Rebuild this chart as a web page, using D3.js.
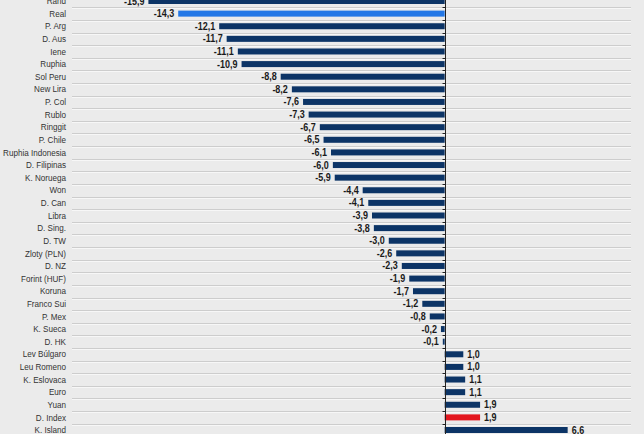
<!DOCTYPE html>
<html>
<head>
<meta charset="utf-8">
<style>
  html, body { margin: 0; padding: 0; background: #ebebeb; }
  svg { display: block; }
</style>
<script src="https://cdn.jsdelivr.net/npm/d3@7"></script>
</head>
<body>
<svg id="chart"></svg>
<script>
// currencies, top to bottom
let currencies = ["Rand", "Real", "P. Arg", "D. Aus", "Iene", "Ruphia", "Sol Peru", "New Lira",
  "P. Col", "Rublo", "Ringgit", "P. Chile", "Ruphia Indonesia", "D. Filipinas", "K. Noruega",
  "Won", "D. Can", "Libra", "D. Sing.", "D. TW", "Zloty (PLN)", "D. NZ", "Forint (HUF)",
  "Koruna", "Franco Sui", "P. Mex", "K. Sueca", "D. HK", "Lev Búlgaro", "Leu Romeno",
  "K. Eslovaca", "Euro", "Yuan", "D. Index", "K. Island"];
// change in %
let changes = [-15.9, -14.3, -12.1, -11.7, -11.1, -10.9, -8.8, -8.2,
  -7.6, -7.3, -6.7, -6.5, -6.1, -6.0, -5.9,
  -4.4, -4.1, -3.9, -3.8, -3.0, -2.6, -2.3, -1.9,
  -1.7, -1.2, -0.8, -0.2, -0.1, 1.0, 1.0,
  1.1, 1.1, 1.9, 1.9, 6.6];
let highlighted = { "Real": "#2377e6", "D. Index": "#e3171f" };

let width = 644, height = 434;
let plotLeft = 72, plotRight = 631;
let step = (430 - 1) / (currencies.length - 1);

let svg = d3.select("#chart").attr("width", width).attr("height", height);

let data = currencies.map((c, i) => ({ name: c, value: changes[i] }));

let x = d3.scaleLinear().domain([-20, 10]).range([plotLeft, plotRight]);
let y = d3.scalePoint().domain(currencies).range([1, 430]);

// row separators
let bounds = currencies.map(c => y(c) - step / 2).concat([y(currencies[currencies.length - 1]) + step / 2]);
let grid = svg.append("g");
grid.selectAll(".g1").data(bounds).enter().append("line")
  .attr("x1", plotLeft).attr("x2", plotRight)
  .attr("y1", d => Math.round(d) + 0.5).attr("y2", d => Math.round(d) + 0.5)
  .attr("stroke", "#cdcdcd");
grid.selectAll(".g2").data(bounds).enter().append("line")
  .attr("x1", plotLeft).attr("x2", plotRight)
  .attr("y1", d => Math.round(d) + 1.5).attr("y2", d => Math.round(d) + 1.5)
  .attr("stroke", "#f7f7f7");

// bars
let barH = 6;
svg.append("g").selectAll("rect").data(data).enter().append("rect")
  .attr("x", d => x(Math.min(0, d.value)))
  .attr("width", d => Math.abs(x(d.value) - x(0)))
  .attr("y", d => y(d.name) - barH / 2)
  .attr("height", barH)
  .attr("fill", d => highlighted[d.name] || "#0c3466");

// zero axis with ticks
let x0 = Math.round(x(0)) + 0.5;
svg.append("line").attr("x1", x0).attr("x2", x0).attr("y1", 0).attr("y2", height)
  .attr("stroke", "#222");
svg.append("g").selectAll("line").data(bounds).enter().append("line")
  .attr("x1", x0 - 3).attr("x2", x0)
  .attr("y1", d => Math.round(d) + 0.5).attr("y2", d => Math.round(d) + 0.5)
  .attr("stroke", "#222");

// category labels (squeezed horizontally)
svg.append("g").selectAll("text").data(data).enter().append("text")
  .attr("transform", d => `translate(66,${y(d.name)}) scale(0.9,1)`)
  .attr("dy", "0.35em")
  .attr("text-anchor", "end")
  .attr("font-family", "Arial, 'Liberation Sans', sans-serif")
  .attr("font-size", "9px")
  .attr("fill", "#333")
  .text(d => d.name);

// value labels
let fmt = d3.format(".1f");
svg.append("g").selectAll("text").data(data).enter().append("text")
  .attr("transform", d => `translate(${d.value < 0 ? x(d.value) - 4 : x(d.value) + 4},${y(d.name)}) scale(0.9,1)`)
  .attr("dy", "0.35em")
  .attr("text-anchor", d => d.value < 0 ? "end" : "start")
  .attr("font-family", "Arial, 'Liberation Sans', sans-serif")
  .attr("font-size", "10px")
  .attr("font-weight", "bold")
  .attr("fill", "#1a1a1a")
  .text(d => fmt(d.value).replace("\u2212", "-").replace(".", ","));
</script>
</body>
</html>
